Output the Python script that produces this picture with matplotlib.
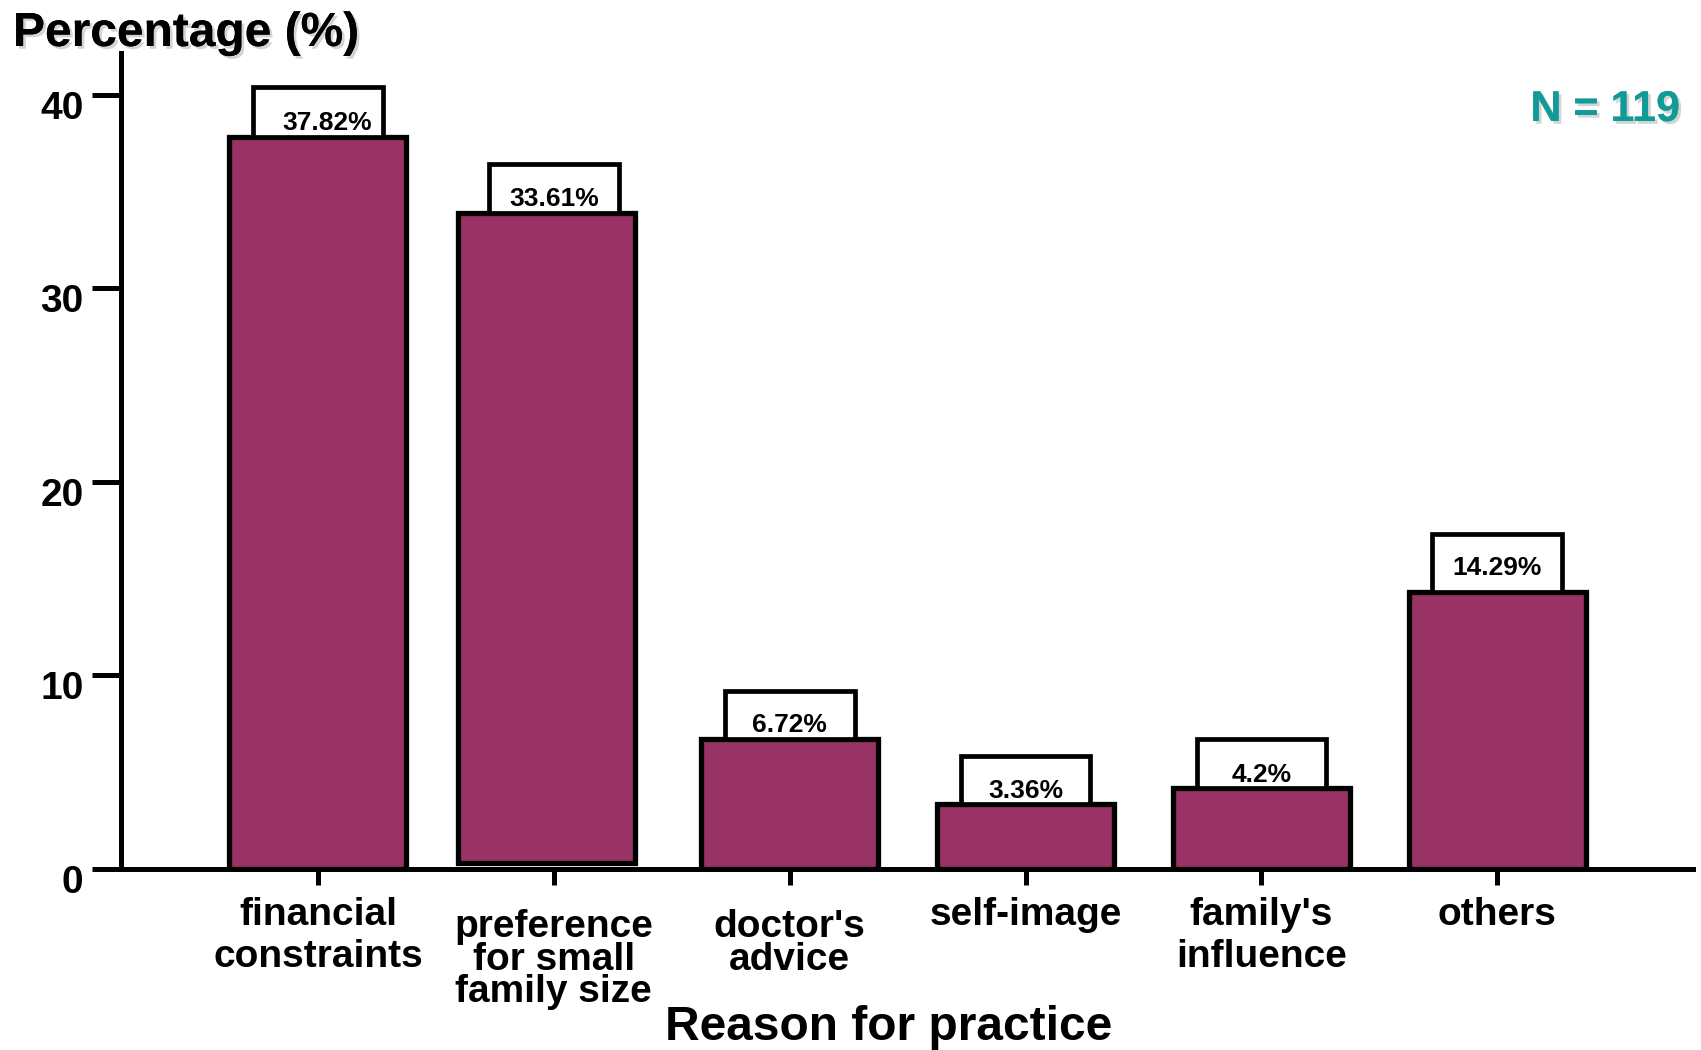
import matplotlib.pyplot as plt
import matplotlib.patheffects as pe
from matplotlib import font_manager
from matplotlib.transforms import ScaledTranslation
import numpy as np

# reasons and share of respondents (%)
reasons = ["financial\nconstraints", "preference\nfor small\nfamily size",
           "doctor's\nadvice", "self-image", "family's\ninfluence", "others"]
percent = [37.82, 33.61, 6.72, 3.36, 4.2, 14.29]
n_total = 119

installed = {f.name for f in font_manager.fontManager.ttflist}
wide = "Liberation Sans"
if "Liberation Sans Narrow" in installed:
    narrow, tick_size, k = "Liberation Sans Narrow", 32, 0.83
else:
    narrow, tick_size, k = wide, 28, 1.0

bar_color = "#993366"
W, H = 1701, 1050
fig = plt.figure(figsize=(W / 100, H / 100), dpi=100)
ax = fig.add_axes([121 / W, (H - 869) / H, (1693 - 121) / W, (869 - 53) / H])

x = np.arange(len(reasons))
# second bar sits a touch left of its tick and slightly lifted off the axis
dx = np.array([0, -0.032, 0, 0, 0, 0])
lifted = np.array([0, 0.3, 0, 0, 0, 0])
ax.bar(x + dx, percent, bottom=lifted, width=0.75, color=bar_color,
       edgecolor="black", linewidth=3.8, zorder=2)

# white boxes holding the value labels, sitting on each bar
box_h = [2.6, 2.5, 2.5, 2.5, 2.5, 3.0]
lift = [0.35, 0.35, 0.35, 0.3, 0.3, 0.9]
top = np.array(percent) + lifted
ax.bar(x, box_h, bottom=top, width=0.55, color="white", edgecolor="black",
       linewidth=3.4, zorder=2)
for xi, t, v, l in zip(x, top, percent, lift):
    ax.text(xi + (0.04 if xi == 0 else 0), t + l, f"{v:g}%", ha="center", va="baseline",
            fontsize=19, fontweight="bold", family=wide, zorder=3)

ax.set_xlim(-0.835, 5.83)
ax.set_ylim(0, 42.17)
for s in ["top", "right"]:
    ax.spines[s].set_visible(False)
for s in ["left", "bottom"]:
    ax.spines[s].set_linewidth(3.6)

ax.set_yticks([0, 10, 20, 30, 40])
ax.set_yticklabels(["0", "10", "20", "30", "40"], fontsize=tick_size, fontweight="bold", family=narrow)
ax.tick_params(axis="y", length=21, width=3.6, pad=6)
shift = ScaledTranslation(0, -0.1, fig.dpi_scale_trans)
for lab in ax.get_yticklabels():
    lab.set_transform(lab.get_transform() + shift)

ax.set_xticks(x)
ax.set_xticklabels(reasons, fontsize=tick_size, fontweight="bold", family=narrow)
ax.tick_params(axis="x", length=11.5, width=3.6, pad=9)
# loose two-line labels, tight three-line ones; some start a little lower
spacing = [1.19, 0.87, 0.87, 1.0, 1.19, 1.0]
drop = [0, -0.12, -0.12, 0, 0, 0]
for lab, ls, dy in zip(ax.get_xticklabels(), spacing, drop):
    lab.set_linespacing(ls * k)
    lab.set_transform(lab.get_transform() + ScaledTranslation(0, dy, fig.dpi_scale_trans))

shadow = [pe.withSimplePatchShadow(offset=(2, -2), shadow_rgbFace="#aaaaaa", alpha=0.5), pe.Normal()]
fig.text(13 / W, 1 - 46 / H, "Percentage (%)", fontsize=34.5, fontweight="bold",
         family=wide, va="baseline", ha="left", path_effects=shadow)
fig.text(1680 / W, 1 - 121 / H, f"N = {n_total}", fontsize=31, fontweight="bold",
         family=wide, color="#129a98", va="baseline", ha="right", path_effects=shadow)
fig.text(889 / W, 1 - 1040 / H, "Reason for practice", fontsize=34.5, fontweight="bold",
         family=wide, va="baseline", ha="center")

fig.savefig("out.png", dpi=100)
